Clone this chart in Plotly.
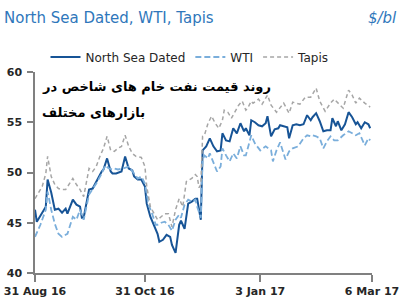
import plotly.graph_objects as go

# ---- data (USD/bbl) ----
nsd_dates = ["2016-08-31","2016-09-01","2016-09-06","2016-09-07","2016-09-09","2016-09-11","2016-09-13","2016-09-15",
             "2016-09-17","2016-09-18","2016-09-21","2016-09-23","2016-09-25","2016-09-26","2016-09-27","2016-09-30",
             "2016-10-02","2016-10-04","2016-10-07","2016-10-08","2016-10-10","2016-10-12","2016-10-13","2016-10-15",
             "2016-10-18","2016-10-20","2016-10-22","2016-10-24","2016-10-25","2016-10-27","2016-10-29","2016-10-31",
             "2016-11-01","2016-11-03","2016-11-05","2016-11-07","2016-11-08","2016-11-10","2016-11-12","2016-11-14",
             "2016-11-15","2016-11-17","2016-11-19","2016-11-20","2016-11-22","2016-11-24","2016-11-26","2016-11-28",
             "2016-11-29","2016-11-30","2016-12-01","2016-12-02","2016-12-04","2016-12-06","2016-12-08","2016-12-10",
             "2016-12-12","2016-12-13","2016-12-15","2016-12-17","2016-12-19","2016-12-21","2016-12-23","2016-12-25",
             "2016-12-26","2016-12-28","2016-12-29","2016-12-31","2017-01-02","2017-01-04","2017-01-06","2017-01-07",
             "2017-01-09","2017-01-11","2017-01-13","2017-01-14","2017-01-16","2017-01-18","2017-01-19","2017-01-21",
             "2017-01-23","2017-01-25","2017-01-27","2017-01-29","2017-01-31","2017-02-01","2017-02-03","2017-02-05",
             "2017-02-07","2017-02-09","2017-02-11","2017-02-12","2017-02-14","2017-02-15","2017-02-17","2017-02-19",
             "2017-02-21","2017-02-23","2017-02-25","2017-02-26","2017-02-28","2017-03-02","2017-03-04","2017-03-05"]
nsd_values = [46.3,45.1,46.6,49.3,48.0,46.3,46.4,46.0,
              46.4,45.9,47.3,46.8,46.6,45.5,45.5,48.3,
              48.4,49.1,50.1,50.3,51.4,50.1,49.9,49.9,
              50.1,51.6,50.4,50.2,49.6,49.3,49.3,48.6,
              46.9,45.6,44.8,43.9,43.1,43.3,43.8,43.6,
              42.8,42.0,44.8,45.2,44.4,46.9,47.1,47.4,
              47.4,46.2,45.3,52.2,52.6,53.4,52.6,52.1,
              52.2,53.9,53.2,53.1,54.4,53.9,54.9,54.1,
              54.4,53.7,55.2,55.0,54.7,54.6,54.9,55.6,
              53.6,54.3,54.4,54.7,54.6,54.5,53.4,54.7,
              54.8,54.7,54.8,55.7,55.2,55.5,55.9,55.1,
              54.1,54.2,54.2,55.4,54.6,55.1,54.2,54.8,
              56.0,55.5,54.8,55.0,54.4,55.0,54.8,54.4]

wti_dates = ["2016-08-31","2016-09-03","2016-09-06","2016-09-07","2016-09-09","2016-09-11","2016-09-13","2016-09-15",
             "2016-09-17","2016-09-18","2016-09-21","2016-09-23","2016-09-25","2016-09-27","2016-09-30","2016-10-02",
             "2016-10-04","2016-10-07","2016-10-09","2016-10-11","2016-10-13","2016-10-14","2016-10-16","2016-10-19",
             "2016-10-22","2016-10-25","2016-10-27","2016-10-29","2016-10-31","2016-11-02","2016-11-04","2016-11-06",
             "2016-11-07","2016-11-09","2016-11-11","2016-11-13","2016-11-15","2016-11-17","2016-11-19","2016-11-20",
             "2016-11-22","2016-11-24","2016-11-26","2016-11-28","2016-11-29","2016-12-01","2016-12-02","2016-12-03",
             "2016-12-05","2016-12-06","2016-12-08","2016-12-10","2016-12-12","2016-12-13","2016-12-15","2016-12-17",
             "2016-12-19","2016-12-21","2016-12-23","2016-12-25","2016-12-26","2016-12-28","2016-12-29","2016-12-31",
             "2017-01-03","2017-01-06","2017-01-09","2017-01-10","2017-01-12","2017-01-14","2017-01-17","2017-01-19",
             "2017-01-21","2017-01-24","2017-01-27","2017-01-29","2017-01-31","2017-02-01","2017-02-03","2017-02-05",
             "2017-02-07","2017-02-09","2017-02-11","2017-02-13","2017-02-15","2017-02-18","2017-02-21","2017-02-23",
             "2017-02-25","2017-02-27","2017-03-02","2017-03-04","2017-03-05"]
wti_values = [43.6,44.8,46.3,48.1,46.3,44.9,43.9,43.6,
              43.8,43.9,45.6,45.3,46.3,45.3,47.8,48.3,
              48.9,49.9,50.7,50.4,50.3,50.4,50.3,50.4,
              50.6,49.9,49.4,49.6,48.9,46.8,45.9,44.8,
              44.8,45.0,45.1,44.8,44.2,45.3,45.8,45.5,
              46.8,47.3,47.1,47.3,46.6,45.5,51.2,51.7,
              51.4,51.9,50.9,50.1,50.6,52.4,51.7,51.1,
              51.9,51.4,52.6,51.7,51.7,52.9,53.7,52.9,
              52.2,52.6,52.2,51.1,52.2,53.0,51.3,52.1,
              52.4,52.6,53.4,53.7,53.6,53.7,53.6,53.4,
              52.4,53.1,53.6,53.2,53.2,53.7,54.1,53.9,
              53.7,53.9,52.7,53.4,53.2]

tapis_dates = ["2016-08-31","2016-09-04","2016-09-06","2016-09-07","2016-09-09","2016-09-11","2016-09-13","2016-09-15",
               "2016-09-17","2016-09-18","2016-09-21","2016-09-23","2016-09-25","2016-09-27","2016-09-30","2016-10-02",
               "2016-10-04","2016-10-06","2016-10-08","2016-10-10","2016-10-12","2016-10-14","2016-10-16","2016-10-18",
               "2016-10-20","2016-10-22","2016-10-24","2016-10-26","2016-10-29","2016-10-31","2016-11-01","2016-11-03",
               "2016-11-06","2016-11-07","2016-11-09","2016-11-11","2016-11-13","2016-11-15","2016-11-17","2016-11-19",
               "2016-11-21","2016-11-23","2016-11-26","2016-11-28","2016-11-29","2016-11-30","2016-12-01","2016-12-02",
               "2016-12-03","2016-12-05","2016-12-07","2016-12-09","2016-12-11","2016-12-13","2016-12-14","2016-12-16",
               "2016-12-18","2016-12-20","2016-12-22","2016-12-24","2016-12-26","2016-12-27","2016-12-29","2016-12-30",
               "2017-01-02","2017-01-04","2017-01-07","2017-01-09","2017-01-12","2017-01-16","2017-01-19","2017-01-21",
               "2017-01-25","2017-01-28","2017-01-31","2017-02-03","2017-02-05","2017-02-08","2017-02-11","2017-02-13",
               "2017-02-15","2017-02-18","2017-02-21","2017-02-23","2017-02-25","2017-02-27","2017-03-02","2017-03-05"]
tapis_values = [47.4,48.6,49.9,51.6,49.6,48.8,48.4,48.3,
                48.3,48.6,49.4,48.8,48.3,47.6,50.4,50.1,
                50.6,51.6,52.4,53.6,52.2,52.1,52.4,52.6,
                53.7,52.6,51.9,51.6,51.5,50.6,48.6,46.6,
                45.6,45.3,45.6,45.9,45.9,44.6,46.3,47.4,
                46.6,49.1,49.4,49.8,49.6,48.5,48.8,53.6,
                53.7,54.9,55.6,54.9,54.4,55.2,56.2,56.0,
                55.4,56.0,56.7,57.1,56.2,56.4,57.1,56.9,
                57.3,56.8,57.7,56.7,56.0,56.9,55.9,57.0,
                56.8,57.5,57.5,58.4,57.1,56.1,56.9,57.3,
                56.9,56.4,58.2,57.7,56.9,57.4,56.9,56.5]

tick_dates = ["2016-08-31", "2016-10-31", "2017-01-03", "2017-03-06"]
tick_labels = ["31 Aug 16", "31 Oct 16", "3 Jan 17", "6 Mar 17"]
y_ticks = [40, 45, 50, 55, 60]

title_text = "North Sea Dated, WTI, Tapis"
unit_text = "$/bl"
note_line1 = "روند قیمت نفت خام های شاخص در"
note_line2 = "بازارهای مختلف"

C_NSD = "#175496"
C_WTI = "#7aaedb"
C_TAP = "#a6a6a6"
AXIS = "#808080"
TXT = "#262626"
C_TITLE = "#2f77bb"

fig = go.Figure()
fig.add_trace(go.Scatter(x=nsd_dates, y=nsd_values, mode="lines", name="North Sea Dated",
                         line=dict(color=C_NSD, width=2)))
fig.add_trace(go.Scatter(x=wti_dates, y=wti_values, mode="lines", name="WTI",
                         line=dict(color=C_WTI, width=1.8, dash="6px,3px")))
fig.add_trace(go.Scatter(x=tapis_dates, y=tapis_values, mode="lines", name="Tapis",
                         line=dict(color=C_TAP, width=1.5, dash="4px,3px")))

fig.update_layout(
    width=401, height=303,
    margin=dict(l=35, r=29, t=72, b=30, autoexpand=False),
    paper_bgcolor="white", plot_bgcolor="white",
    font=dict(family="DejaVu Sans", color=TXT),
    showlegend=True,
    legend=dict(orientation="h", x=(190-35)/337, xanchor="center", y=(273-57)/201, yanchor="middle",
                font=dict(size=12, color=TXT, family="DejaVu Sans"),
                bgcolor="rgba(0,0,0,0)", itemwidth=30, tracegroupgap=0),
    xaxis=dict(type="date", range=["2016-08-31", "2017-03-06"], automargin=False,
               tickvals=tick_dates, ticktext=tick_labels,
               showgrid=False, zeroline=False, showline=True, linecolor=AXIS, linewidth=1.5,
               ticks="outside", ticklen=7, tickwidth=1.5, tickcolor=AXIS,
               tickfont=dict(size=11, color=TXT, family="DejaVu Sans", weight="bold")),
    yaxis=dict(range=[40, 60], tickvals=y_ticks, automargin=False,
               showgrid=False, zeroline=False, showline=True, linecolor=AXIS, linewidth=1.5,
               ticks="outside", ticklen=6, tickwidth=1.5, tickcolor=AXIS, ticklabelstandoff=3,
               tickfont=dict(size=11, color=TXT, family="DejaVu Sans", weight="bold")),
    annotations=[
        dict(text=title_text, xref="paper", yref="paper", x=-33/337, y=(273-18)/201,
             xanchor="left", yanchor="middle", showarrow=False,
             font=dict(size=15, color=C_TITLE, family="DejaVu Sans")),
        dict(text="<i>" + unit_text + "</i>", xref="paper", yref="paper", x=(399-35)/337, y=(273-18)/201,
             xanchor="right", yanchor="middle", showarrow=False,
             font=dict(size=15, color=C_TITLE, family="DejaVu Sans")),
        dict(text="<b>" + note_line1 + "</b>", xref="paper", yref="paper", x=(40-35)/337, y=(273-87)/201,
             xanchor="left", yanchor="middle", showarrow=False,
             font=dict(size=13, color="black", family="DejaVu Sans")),
        dict(text="<b>" + note_line2 + "</b>", xref="paper", yref="paper", x=(40-35)/337, y=(273-112)/201,
             xanchor="left", yanchor="middle", showarrow=False,
             font=dict(size=13, color="black", family="DejaVu Sans")),
    ],
)

fig.write_html("out.html")
